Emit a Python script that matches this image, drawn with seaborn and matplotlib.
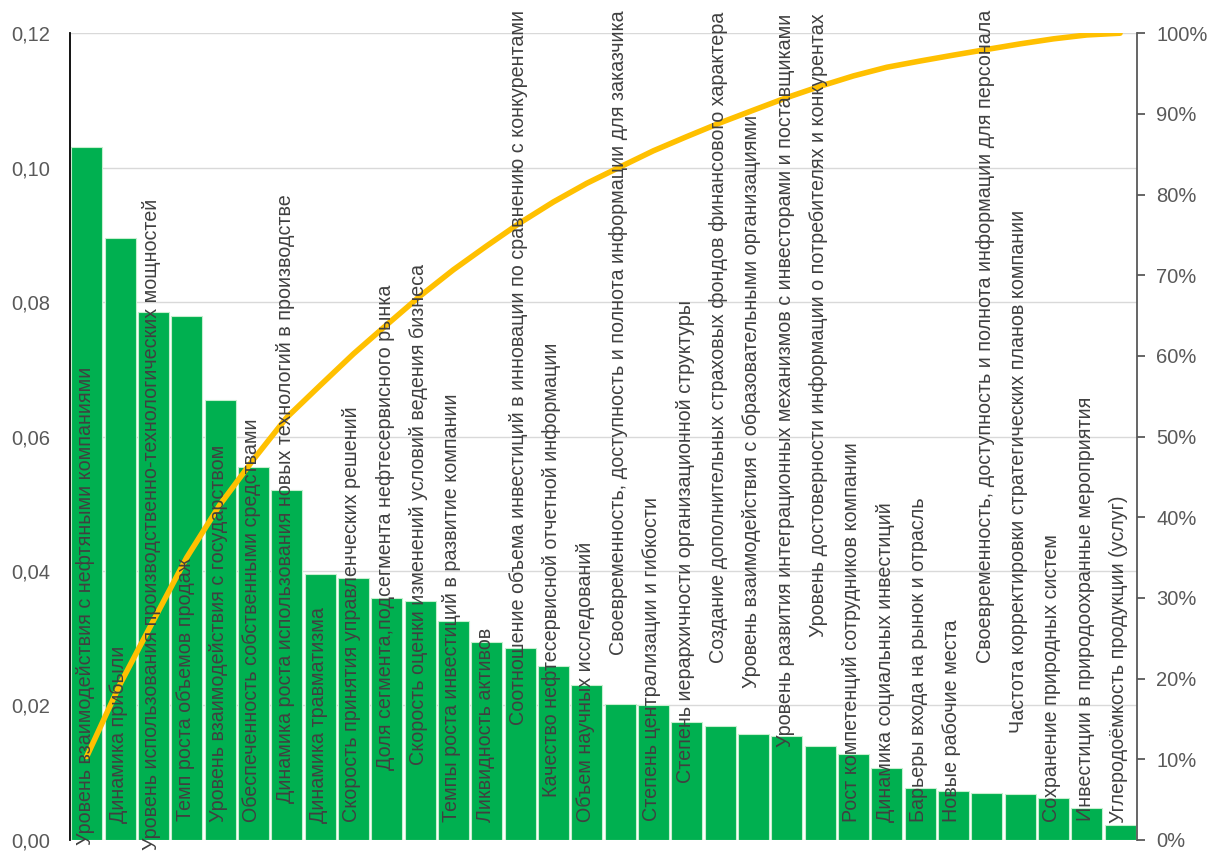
import numpy as np
import pandas as pd
import seaborn as sns
import matplotlib.pyplot as plt
from matplotlib.ticker import FuncFormatter, MultipleLocator

# factor names and weights
factors = [
    'Уровень взаимодействия с нефтяными компаниями',
    'Динамика прибыли',
    'Уровень использования производственно-технологических мощностей',
    'Темп роста объемов продаж',
    'Уровень взаимодействия с государством',
    'Обеспеченность собственными средствами',
    'Динамика роста использования новых технологий в производстве',
    'Динамика травматизма',
    'Скорость принятия управленческих решений',
    'Доля сегмента,подсегмента нефтесервисного рынка',
    'Скорость оценки изменений условий ведения бизнеса',
    'Темпы роста инвестиций в развитие компании',
    'Ликвидность активов',
    'Соотношение объема инвестиций в инновации по сравнению с конкурентами',
    'Качество нефтесервисной отчетной информации',
    'Объем научных исследований',
    'Своевременность, доступность и полнота информации для заказчика',
    'Степень централизации и гибкости',
    'Степень иерархичности организационной структуры',
    'Создание дополнительных страховых фондов финансового характера',
    'Уровень взаимодействия с образовательными организациями',
    'Уровень развития интеграционных механизмов с инвесторами и поставщиками',
    'Уровень достоверности информации о потребителях и конкурентах',
    'Рост компетенций сотрудников компании',
    'Динамика социальных инвестиций',
    'Барьеры входа на рынок и отрасль',
    'Новые рабочие места',
    'Своевременность, доступность и полнота информации для персонала',
    'Частота корректировки стратегических планов компании',
    'Сохранение природных систем',
    'Инвестиции в природоохранные мероприятия',
    'Углеродоёмкость продукции (услуг)',
]
weights = [0.1030, 0.0895, 0.0785, 0.0780, 0.0655, 0.0555, 0.0520, 0.0395,
           0.0390, 0.0360, 0.0355, 0.0325, 0.0295, 0.0285, 0.0258, 0.0230,
           0.0202, 0.0200, 0.0175, 0.0170, 0.0157, 0.0155, 0.0140, 0.0128,
           0.0107, 0.0077, 0.0073, 0.0070, 0.0069, 0.0062, 0.0048, 0.0022]

# where each label starts (axes fraction from the bottom)
label_base = [-0.006, 0.021, -0.012, 0.024, 0.022, 0.022, 0.046, 0.021,
              0.022, 0.087, 0.093, 0.022, 0.022, 0.142, 0.053, 0.022,
              0.229, 0.024, 0.071, 0.219, 0.188, 0.115, 0.252, 0.022,
              0.022, 0.022, 0.022, 0.219, 0.133, 0.022, 0.024, 0.021]

df = pd.DataFrame({'factor': factors, 'weight': weights})
df['cum'] = df['weight'].cumsum() / df['weight'].sum()

sns.set_style('white')
plt.rcParams['font.family'] = ['Liberation Sans', 'DejaVu Sans']

fig = plt.figure(figsize=(12.08, 8.51), dpi=100)
ax = fig.add_axes([0.058, 0.013, 0.883, 0.948])

sns.barplot(data=df, x='factor', y='weight', color='#00B050', saturation=1,
            width=0.93, edgecolor='#C6EFCE', linewidth=0.8, ax=ax, zorder=2)
ax.set_ylim(0, 0.12)
ax.set_xlim(-0.5, len(factors) - 0.5)
ax.yaxis.set_major_locator(MultipleLocator(0.02))
ax.yaxis.set_major_formatter(FuncFormatter(lambda v, p: f'{v:.2f}'.replace('.', ',')))
ax.grid(axis='y', color='#D9D9D9', linewidth=1, zorder=0)
ax.set_axisbelow(True)
ax.set_xticks([])
ax.set_xlabel('')
ax.set_ylabel('')
ax.tick_params(axis='y', length=0, pad=14, labelsize=14.5, labelcolor='#595959')
for s in ['top', 'right', 'bottom']:
    ax.spines[s].set_visible(False)
ax.spines['left'].set_color('black')
ax.spines['left'].set_linewidth(1.3)

ax2 = ax.twinx()
sns.lineplot(x=np.arange(len(df)), y=df['cum'], color='#FFC000', linewidth=4,
             ax=ax2, zorder=3, solid_capstyle='round')
ax2.set_ylim(0, 1.0)
ax2.yaxis.set_major_locator(MultipleLocator(0.1))
ax2.yaxis.set_major_formatter(FuncFormatter(lambda v, p: f'{v * 100:.0f}%'))
ax2.tick_params(axis='y', direction='out', length=6, width=1.3, color='#595959',
                pad=8, labelsize=14.5, labelcolor='#595959')
ax2.set_ylabel('')
for s in ['top', 'left', 'bottom']:
    ax2.spines[s].set_visible(False)
ax2.spines['right'].set_color('#595959')
ax2.spines['right'].set_linewidth(1.3)

trans = ax2.get_xaxis_transform()
for i, (name, base) in enumerate(zip(factors, label_base)):
    ax2.text(i - 0.05, base, name, rotation=90, ha='center', va='bottom',
             fontsize=14.2, color='#404040', transform=trans, clip_on=False, zorder=5)

plt.savefig('out.png', dpi=100)
